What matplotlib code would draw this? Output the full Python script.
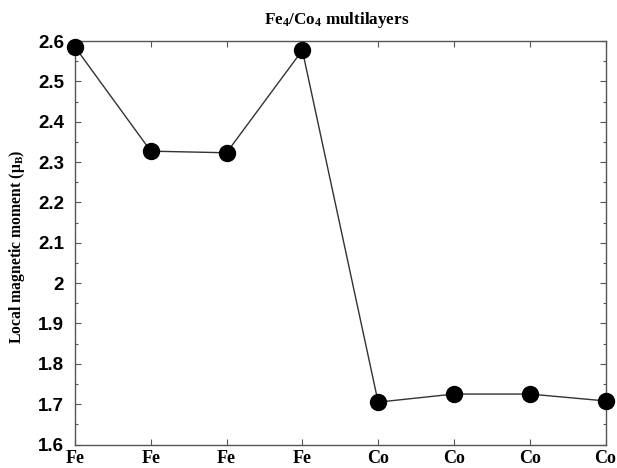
import matplotlib
matplotlib.use("Agg")
import matplotlib.pyplot as plt
from matplotlib.ticker import MultipleLocator, FixedLocator

# Layer sequence and local magnetic moments (Bohr magnetons)
layers = ["Fe", "Fe", "Fe", "Fe", "Co", "Co", "Co", "Co"]
moments = [2.585, 2.327, 2.323, 2.577, 1.705, 1.725, 1.725, 1.708]
y_ticks = [1.6, 1.7, 1.8, 1.9, 2.0, 2.1, 2.2, 2.3, 2.4, 2.5, 2.6]
y_tick_labels = ["1.6", "1.7", "1.8", "1.9", "2", "2.1", "2.2", "2.3", "2.4", "2.5", "2.6"]

plt.rcParams["mathtext.fontset"] = "custom"
plt.rcParams["mathtext.rm"] = "Liberation Serif:bold"
plt.rcParams["mathtext.it"] = "Liberation Serif:italic:bold"
plt.rcParams["mathtext.bf"] = "Liberation Serif:bold"

fig = plt.figure(figsize=(6.17, 4.68), dpi=100)
ax = fig.add_axes([75 / 617, 23.5 / 468, 530.5 / 617, 403.5 / 468])

positions = list(range(1, len(layers) + 1))
ax.plot(positions, moments, color="#333333", linewidth=1.0, zorder=2, clip_on=False)
ax.plot(positions, moments, linestyle="none", marker="o", markersize=11.5,
        color="black", zorder=3, clip_on=False)

ax.set_xlim(1, 8)
ax.set_ylim(1.6, 2.6)

ax.xaxis.set_major_locator(FixedLocator(positions))
ax.set_xticklabels(layers, fontfamily="Liberation Serif", fontweight="bold", fontsize=13)
ax.yaxis.set_major_locator(FixedLocator(y_ticks))
ax.set_yticklabels(y_tick_labels, fontfamily="Liberation Sans", fontweight="bold", fontsize=13.5)
ax.yaxis.set_minor_locator(MultipleLocator(0.05))

for side in ax.spines.values():
    side.set_color("#555555")
    side.set_linewidth(1.0)

ax.tick_params(axis="both", which="major", direction="in", length=4, width=0.8,
               color="#555555", top=True, right=True)
ax.tick_params(axis="y", which="minor", direction="in", length=2.5, width=0.8,
               color="#555555", left=True, right=True)
ax.tick_params(axis="x", which="major", pad=4)
ax.tick_params(axis="y", which="major", pad=8)

fig.text(337 / 617, 1 - 20 / 468, r"Fe$_4$/Co$_4$ multilayers", ha="center", va="center",
         fontfamily="Liberation Serif", fontweight="bold", fontsize=12.3)
fig.text(17 / 617, 1 - 247 / 468, r"Local magnetic moment ($\mathrm{\mu}_\mathrm{B}$)",
         ha="center", va="center", rotation=90,
         fontfamily="Liberation Serif", fontweight="bold", fontsize=11.3)

fig.savefig("out.png", dpi=100)
